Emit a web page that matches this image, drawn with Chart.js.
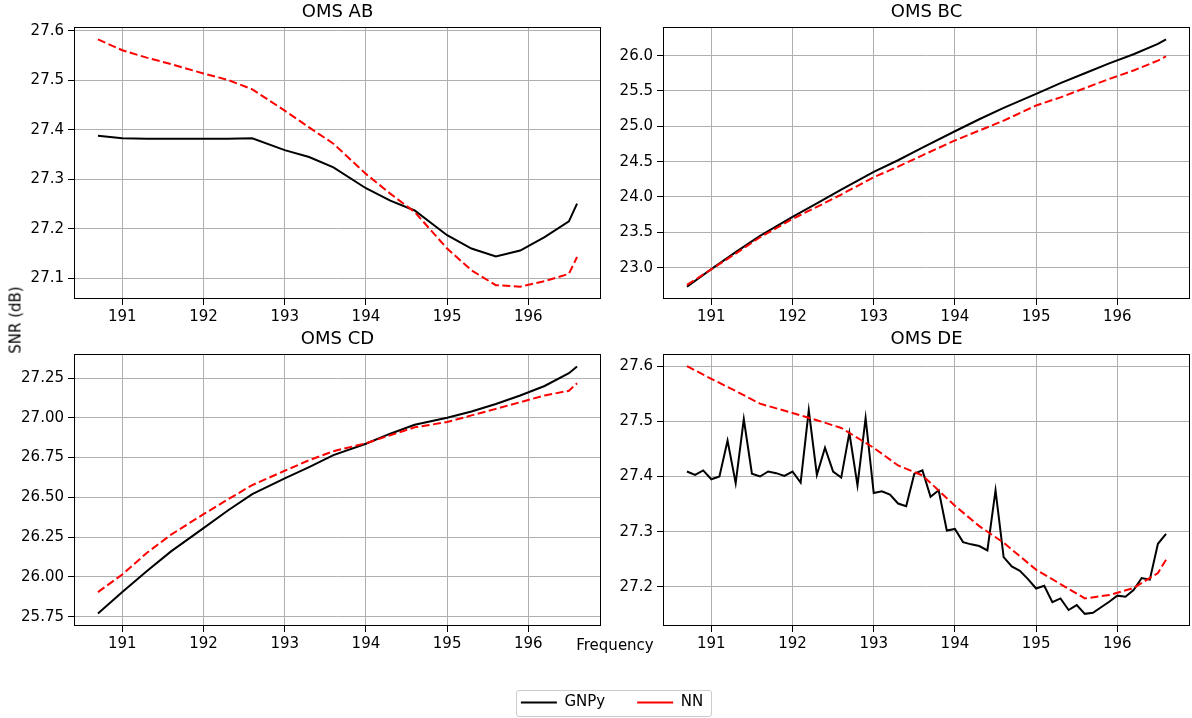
<!DOCTYPE html>
<html>
<head>
<meta charset="utf-8">
<title>OMS SNR</title>
<script src="https://cdn.jsdelivr.net/npm/chart.js@4.4.1/dist/chart.umd.min.js"></script>
<style>
  html, body { margin: 0; padding: 0; background: #fff; overflow: hidden; }
  #fig { position: relative; width: 1192px; height: 718px; font-family: 'DejaVu Sans', sans-serif; }
  #fig canvas { position: absolute; }
  .figlabel { position: absolute; font-size: 15px; line-height: 1; color: #000; white-space: nowrap; }
</style>
</head>
<body>
<div id="fig">
  <canvas id="chartAB" width="605" height="329" style="left:0;top:0"></canvas>
  <canvas id="chartBC" width="603" height="329" style="left:589px;top:0"></canvas>
  <canvas id="chartCD" width="605" height="329" style="left:0;top:327px"></canvas>
  <canvas id="chartDE" width="603" height="329" style="left:589px;top:327px"></canvas>
  <canvas id="legend" width="400" height="100" style="left:412px;top:663px"></canvas>
  <div class="figlabel" style="left:16px;top:320px;transform:translate(-50%,-50%) rotate(-90deg)">SNR (dB)</div>
  <div class="figlabel" style="left:615px;top:645px;transform:translate(-50%,-50%)">Frequency</div>
</div>
<script>
// channel frequencies (THz)
const freqCoarse = [190.7, 191.0, 191.3, 191.6, 192.0, 192.3, 192.6, 193.0, 193.3, 193.6,
                    194.0, 194.3, 194.6, 195.0, 195.3, 195.6, 195.9, 196.2, 196.5, 196.6];
const freqFine = [190.7, 190.8, 190.9, 191.0, 191.1, 191.2, 191.3, 191.4, 191.5, 191.6,
                  191.7, 191.8, 191.9, 192.0, 192.1, 192.2, 192.3, 192.4, 192.5, 192.6,
                  192.7, 192.8, 192.9, 193.0, 193.1, 193.2, 193.3, 193.4, 193.5, 193.6,
                  193.7, 193.8, 193.9, 194.0, 194.1, 194.2, 194.3, 194.4, 194.5, 194.6,
                  194.7, 194.8, 194.9, 195.0, 195.1, 195.2, 195.3, 195.4, 195.5, 195.6,
                  195.7, 195.8, 195.9, 196.0, 196.1, 196.2, 196.3, 196.4, 196.5, 196.6];

// SNR values (dB)
const gnpyAB = [27.388, 27.383, 27.382, 27.382, 27.382, 27.382, 27.383, 27.359, 27.345, 27.324,
                27.282, 27.257, 27.237, 27.187, 27.160, 27.144, 27.156, 27.183, 27.215, 27.251];
const nnAB = [27.583, 27.561, 27.546, 27.533, 27.514, 27.501, 27.482, 27.439, 27.405, 27.372,
              27.311, 27.271, 27.234, 27.160, 27.116, 27.086, 27.083, 27.094, 27.109, 27.143];

const gnpyBC = [22.73, 22.98, 23.22, 23.45, 23.72, 23.91, 24.105, 24.355, 24.52, 24.70,
                24.93, 25.10, 25.26, 25.46, 25.61, 25.75, 25.89, 26.02, 26.165, 26.23];
const nnBC = [22.756, 22.977, 23.20, 23.43, 23.69, 23.86, 24.035, 24.28, 24.43, 24.59,
              24.80, 24.94, 25.08, 25.295, 25.41, 25.54, 25.67, 25.79, 25.93, 25.99];

const gnpyCD = [25.769, 25.904, 26.035, 26.16, 26.306, 26.417, 26.52, 26.619, 26.69, 26.765,
                26.837, 26.90, 26.956, 27.00, 27.04, 27.087, 27.14, 27.20, 27.28, 27.323];
const nnCD = [25.904, 26.015, 26.15, 26.265, 26.394, 26.487, 26.577, 26.667, 26.733, 26.79,
              26.84, 26.89, 26.94, 26.973, 27.015, 27.056, 27.098, 27.14, 27.17, 27.217];

const gnpyDE = [27.409, 27.403, 27.411, 27.395, 27.400, 27.465, 27.388, 27.504, 27.405, 27.400,
                27.409, 27.406, 27.401, 27.409, 27.389, 27.520, 27.403, 27.452, 27.409, 27.398,
                27.479, 27.384, 27.506, 27.370, 27.373, 27.367, 27.351, 27.346, 27.405, 27.411,
                27.363, 27.375, 27.302, 27.305, 27.281, 27.277, 27.274, 27.266, 27.375, 27.254,
                27.237, 27.229, 27.214, 27.197, 27.202, 27.172, 27.179, 27.158, 27.167, 27.151,
                27.153, 27.163, 27.173, 27.184, 27.182, 27.194, 27.216, 27.213, 27.278, 27.296];
const nnDE = [27.600, 27.577, 27.555, 27.532, 27.515, 27.502, 27.488, 27.452, 27.420, 27.402,
              27.347, 27.310, 27.280, 27.231, 27.205, 27.179, 27.185, 27.198, 27.225, 27.249];

// ticks and axis limits
const xTicks = [191, 192, 193, 194, 195, 196];
const xLimits = [190.405, 196.895];
const yTicksAB = [27.1, 27.2, 27.3, 27.4, 27.5, 27.6];
const yTicksBC = [23.0, 23.5, 24.0, 24.5, 25.0, 25.5, 26.0];
const yTicksCD = [25.75, 26.00, 26.25, 26.50, 26.75, 27.00, 27.25];
const yTicksDE = [27.2, 27.3, 27.4, 27.5, 27.6];

const FONT = 'DejaVu Sans';
const GRID = '#b0b0b0';

// draws the top/right/left/bottom spines like matplotlib
const framePlugin = {
    id: 'frame',
    afterDraw(chart) {
        const a = chart.chartArea;
        const ctx = chart.ctx;
        ctx.save();
        ctx.strokeStyle = '#000';
        ctx.lineWidth = 1;
        const l = Math.round(a.left) + 0.5, t = Math.round(a.top) + 0.5;
        const r = Math.round(a.right) - 0.5, b = Math.round(a.bottom) - 0.5;
        ctx.strokeRect(l, t, r - l, b - t);
        ctx.restore();
    }
};

function points(xs, ys) {
    return xs.map((x, i) => ({ x: x, y: ys[i] }));
}

function makePanel(id, title, gnpy, gnpyX, nn, yTicks, yLimits, decimals, padRight) {
    const ctx = document.getElementById(id).getContext('2d');
    return new Chart(ctx, {
        type: 'line',
        data: {
            datasets: [
                {
                    label: 'GNPy',
                    data: points(gnpyX, gnpy),
                    borderColor: '#000000',
                    borderWidth: 2,
                    pointRadius: 0,
                    tension: 0,
                    order: 1
                },
                {
                    label: 'NN',
                    data: points(freqCoarse, nn),
                    borderColor: '#ff0000',
                    borderWidth: 2,
                    borderDash: [8, 3.5],
                    pointRadius: 0,
                    tension: 0,
                    order: 0
                }
            ]
        },
        options: {
            responsive: false,
            animation: false,
            layout: { padding: { left: 0, right: padRight, top: 0, bottom: 0 } },
            plugins: {
                legend: { display: false },
                tooltip: { enabled: false },
                title: {
                    display: true,
                    text: title,
                    fullSize: false,
                    color: '#000',
                    font: { family: FONT, size: 18, weight: 'normal' },
                    padding: { top: 2, bottom: 3.4 }
                }
            },
            scales: {
                x: {
                    type: 'linear',
                    min: xLimits[0],
                    max: xLimits[1],
                    afterBuildTicks: s => { s.ticks = xTicks.map(v => ({ value: v })); },
                    afterFit: s => { s.height = 30; },
                    border: { display: false },
                    grid: { color: GRID, lineWidth: 1, tickLength: 6, tickColor: '#000' },
                    ticks: {
                        autoSkip: false, maxRotation: 0, padding: 3, color: '#000',
                        font: { family: FONT, size: 15 },
                        callback: v => String(v)
                    }
                },
                y: {
                    type: 'linear',
                    min: yLimits[0],
                    max: yLimits[1],
                    afterBuildTicks: s => { s.ticks = yTicks.map(v => ({ value: v })); },
                    afterFit: s => { s.width = 74; },
                    border: { display: false },
                    grid: { color: GRID, lineWidth: 1, tickLength: 6, tickColor: '#000' },
                    ticks: {
                        autoSkip: false, padding: 4, color: '#000',
                        font: { family: FONT, size: 15 },
                        callback: v => v.toFixed(decimals)
                    }
                }
            }
        },
        plugins: [framePlugin]
    });
}

makePanel('chartAB', 'OMS AB', gnpyAB, freqCoarse, nnAB, yTicksAB, [27.058, 27.608], 1, 4);
makePanel('chartBC', 'OMS BC', gnpyBC, freqCoarse, nnBC, yTicksBC, [22.557, 26.405], 1, 2);
makePanel('chartCD', 'OMS CD', gnpyCD, freqCoarse, nnCD, yTicksCD, [25.691, 27.401], 2, 4);
makePanel('chartDE', 'OMS DE', gnpyDE, freqFine, nnDE, yTicksDE, [27.129, 27.622], 1, 2);

// shared legend below the grid
const legendFrame = {
    id: 'legendFrame',
    afterDraw(chart) {
        const hb = chart.legend.legendHitBoxes;
        if (!hb || !hb.length) return;
        const ctx = chart.ctx;
        const last = hb[hb.length - 1];
        const cy = hb[0].top + hb[0].height / 2;
        const x0 = Math.round(hb[0].left - 5) + 0.5;
        const x1 = Math.round(last.left + last.width + 8) + 0.5;
        const y0 = Math.round(cy - 13) + 0.5;
        const y1 = Math.round(cy + 13) + 0.5;
        ctx.save();
        ctx.strokeStyle = '#cccccc';
        ctx.lineWidth = 1;
        ctx.beginPath();
        ctx.roundRect(x0, y0, x1 - x0, y1 - y0, 2.5);
        ctx.stroke();
        ctx.restore();
    }
};

new Chart(document.getElementById('legend').getContext('2d'), {
    type: 'line',
    data: {
        datasets: [
            { label: 'GNPy', data: [], borderColor: '#000000', borderWidth: 2 },
            { label: 'NN', data: [], borderColor: '#ff0000', borderWidth: 2, borderDash: [8, 3.5] }
        ]
    },
    options: {
        responsive: false,
        animation: false,
        scales: { x: { display: false }, y: { display: false } },
        plugins: {
            tooltip: { enabled: false },
            legend: {
                position: 'top',
                labels: {
                    usePointStyle: true,
                    pointStyle: 'line',
                    pointStyleWidth: 36,
                    padding: 32,
                    color: '#000',
                    font: { family: FONT, size: 15 }
                }
            }
        }
    },
    plugins: [legendFrame]
});
</script>
</body>
</html>
